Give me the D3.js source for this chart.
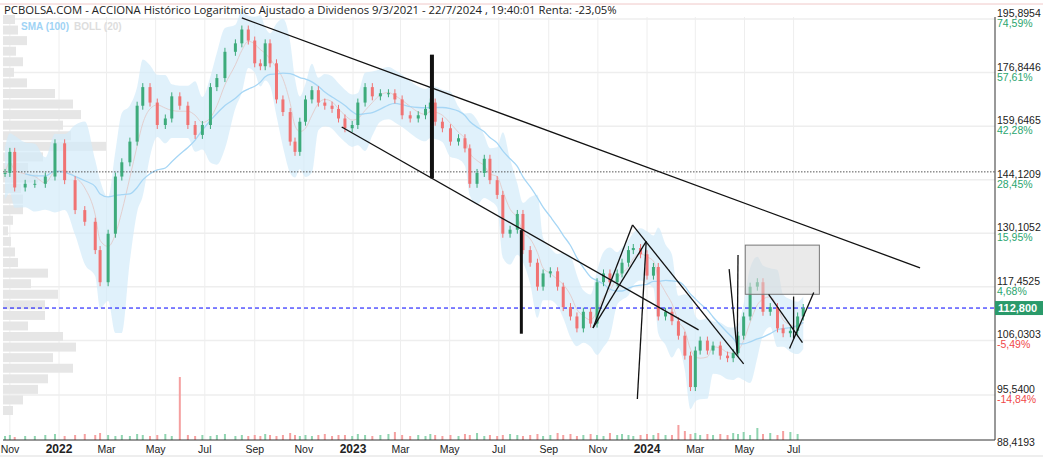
<!DOCTYPE html>
<html>
<head>
<meta charset="UTF-8">
<script src="https://d3js.org/d3.v7.min.js"></script>
<style>
  body { margin: 0; background: #fff; }
  svg { font-family: "Open Sans", sans-serif; }
</style>
</head>
<body>
<svg id="chart" width="1043" height="461"></svg>
<script>
// days after 1 Jan 2022, and the weekly closes
const days = [-67,-61,-55,-42,-30,-17,-5,7,20,32,45,51,61,70,78,88,97,104,113,122,132,140,150,160,169,178,188,196,206,219,227,235,243,250,256,262,270,278,287,293,299,306,314,322,330,339,347,355,364,371,380,389,399,409,417,426,436,446,455,461,467,476,486,496,504,510,519,528,535,544,551,560,569,576,585,594,601,610,619,626,635,643,651,660,668,676,684,693,699,707,713,722,730,738,744,753,761,769,777,784,790,796,805,812,821,830,837,843,850,858,867,874,883,892,899,908,917,924];
const closes = [146,152,142,143,143,145,154.5,144,136,133,126,118.5,130,145,149,155,166,172,167,160,162,169,166,160,157,160,172,175,184,187,192,188,180,179,187,180,168,164,155,152,161,168,171,167,166,165,162,159,160,167,172,169,170,170,168,163,162,163,165,167,161,159,155,156,153,143,146,150,144,140,130,131,135,126,123,117.5,120.5,121,117.5,113,111,108.5,112,109.5,118.5,120.5,118.5,120.5,123,126,126.5,125,120,122,111,112,110,107,103,97,104,106,104,105,103,102.5,103.5,107,111,117.5,118.5,112,113,108.5,107.5,108,111,112.8];
const volumes = [4,5,3,4,4,5,6,4,5,6,5,7,5,4,5,4,6,5,4,5,6,4,63,5,4,5,4,5,6,4,5,4,5,4,6,5,4,5,7,5,4,5,4,5,6,4,5,5,4,6,5,4,5,6,8,5,4,5,4,6,5,4,5,4,6,5,7,4,5,4,5,6,5,4,5,6,4,5,7,5,6,4,5,6,5,4,7,5,6,5,4,5,6,5,7,5,5,15,9,6,7,5,6,5,6,5,7,6,8,5,12,6,7,5,9,8,6];

// right axis labels
const priceTicks = [195.8954,176.8446,159.6465,144.1209,130.1052,117.4525,106.0303,95.54];
const priceLabels = ["195,8954","176,8446","159,6465","144,1209","130,1052","117,4525","106,0303","95,5400"];
const pctTicks = ["74,59%","57,61%","42,28%","28,45%","15,95%","4,68%","-5,49%","-14,84%"];
const lastPrice = 112.8;
const refLine = 146.3;

// volume profile (left), top to bottom
const profile = [12,15,24,13,20,11,24,52,70,78,60,68,103,40,25,35,18,20,20,10,5,8,12,15,45,28,55,42,42,25,60,73,50,70,45,35,20,10];

// trend lines drawn on the chart: [day1, price1, day2, price2, width]
const drawn = [
  [227,196.3,1069,121.8,1.3],[351,159.4,794,108.2,1.3],
  [463,183.0,463,144.5,4],[574,130.9,574,107.4,3],
  [663,108.6,712,132.2,1.3],[663,108.6,729,128.1,1.3],[712,132.2,850,101.4,1.3],
  [729,128.1,718,94.8,1.3],[832,121.5,842,103.8,1.3],[843,124.8,842,103.2,1.3],
  [881,115.8,923,105.6,1.3],[907,104.4,937,116.2,1.3],[912,115.3,912,106.4,1.3]
];
const boxArea = [852,127.2,944,115.8];

const months = [
  ["2021-11-01","Nov"],["2022-01-01","2022"],["2022-03-01","Mar"],["2022-05-01","May"],["2022-07-01","Jul"],
  ["2022-09-01","Sep"],["2022-11-01","Nov"],["2023-01-01","2023"],["2023-03-01","Mar"],["2023-05-01","May"],
  ["2023-07-01","Jul"],["2023-09-01","Sep"],["2023-11-01","Nov"],["2024-01-01","2024"],["2024-03-01","Mar"],
  ["2024-05-01","May"],["2024-07-01","Jul"]
];

const svg = d3.select("#chart");
const L = 3, R = 995, T = 17, B = 440;
const dayDate = d => new Date(2022, 0, 1 + d);
const x = d3.scaleTime().domain([new Date(2022,0,1), new Date(2023,0,1)]).range([59, 353]);
const y = d3.scaleLog().domain([195.8954, 95.54]).range([19, 395]);

svg.append("line").attr("x1",0).attr("x2",1043).attr("y1",4).attr("y2",4).attr("stroke","#f0c8c8");

// grid
months.forEach(m => {
  const px = x(d3.timeParse("%Y-%m-%d")(m[0]));
  svg.append("line").attr("x1",px).attr("x2",px).attr("y1",T).attr("y2",B).attr("stroke","#eee");
});
priceTicks.forEach(p => {
  svg.append("line").attr("x1",L).attr("x2",R).attr("y1",y(p)).attr("y2",y(p)).attr("stroke","#eee").attr("stroke-width",1.5);
});

// volume profile
const pb = d3.scaleBand().domain(d3.range(profile.length)).range([15, 415]).paddingInner(0.15);
const pw = d3.scaleLinear().domain([0, 103]).range([0, 103]);
svg.append("g").selectAll("rect").data(profile).join("rect")
  .attr("x", L).attr("y", (d,i) => pb(i)).attr("height", pb.bandwidth())
  .attr("width", d => pw(d)).attr("fill", "#e6e6e6");

// bollinger and sma
const pts = days.map((d,i) => ({date: dayDate(d), close: closes[i], vol: volumes[i], open: i ? closes[i-1] : closes[i]}));
const boll = pts.map((p,i) => {
  const w = closes.slice(Math.max(0, i-3), i+1);
  const m = d3.mean(w), s = Math.max(d3.deviation(w) || 0, m*0.025);
  return {date: p.date, mid: m, up: m + 2*s, lo: m - 2*s};
});
svg.append("path").datum(boll)
  .attr("d", d3.area().x(d => x(d.date)).y0(d => y(d.lo)).y1(d => y(d.up)).curve(d3.curveMonotoneX))
  .attr("fill", "#d3ebfa").attr("opacity", 0.7);
svg.append("path").datum(boll)
  .attr("d", d3.line().x(d => x(d.date)).y(d => y(d.mid)).curve(d3.curveMonotoneX))
  .attr("fill", "none").attr("stroke", "#e3cfcf").attr("stroke-width", 1);
const sma = pts.map((p,i) => ({date: p.date, v: d3.mean(closes.slice(Math.max(0, i-13), i+1))})).slice(3);
svg.append("path").datum(sma)
  .attr("d", d3.line().x(d => x(d.date)).y(d => y(d.v)).curve(d3.curveMonotoneX))
  .attr("fill", "none").attr("stroke", "#a6d6f5").attr("stroke-width", 1.3);

// reference lines
svg.append("line").attr("x1",L).attr("x2",R).attr("y1",y(refLine)).attr("y2",y(refLine))
  .attr("stroke","#555").attr("stroke-dasharray","1.5,1.5");
svg.append("line").attr("x1",L).attr("x2",R).attr("y1",y(lastPrice)).attr("y2",y(lastPrice))
  .attr("stroke","#0000ff").attr("stroke-dasharray","4,3");

// candles
const cg = svg.append("g");
pts.forEach(p => {
  const up = p.close >= p.open;
  const top = y(Math.max(p.open, p.close)), bot = y(Math.min(p.open, p.close));
  const col = up ? "#3dab7b" : "#f07373";
  cg.append("line").attr("x1", x(p.date)).attr("x2", x(p.date))
    .attr("y1", top - 4).attr("y2", bot + 4).attr("stroke", col).attr("stroke-width", 1);
  cg.append("rect").attr("x", x(p.date) - 1.5).attr("width", 3)
    .attr("y", top).attr("height", Math.max(1, bot - top)).attr("fill", col);
});

// volume
const vy = d3.scaleLinear().domain([0, 63]).range([B, B - 63]);
svg.append("g").selectAll("rect").data(pts).join("rect")
  .attr("x", d => x(d.date) - 1).attr("width", 2)
  .attr("y", d => vy(d.vol)).attr("height", d => B - vy(d.vol))
  .attr("fill", d => d.close >= d.open ? "#8fd4b0" : "#f5a0a0");

// drawn annotations
svg.append("rect")
  .attr("x", x(dayDate(boxArea[0]))).attr("y", y(boxArea[1]))
  .attr("width", x(dayDate(boxArea[2])) - x(dayDate(boxArea[0])))
  .attr("height", y(boxArea[3]) - y(boxArea[1]))
  .attr("fill", "#d8d8d8").attr("fill-opacity", 0.55).attr("stroke", "#777");
drawn.forEach(s => {
  svg.append("line")
    .attr("x1", x(dayDate(s[0]))).attr("y1", y(s[1]))
    .attr("x2", x(dayDate(s[2]))).attr("y2", y(s[3]))
    .attr("stroke", "#111").attr("stroke-width", s[4]);
});

// frame
svg.append("line").attr("x1",R).attr("x2",R).attr("y1",T).attr("y2",B).attr("stroke","#333");
svg.append("line").attr("x1",L).attr("x2",R).attr("y1",B).attr("y2",B).attr("stroke","#333");
svg.append("line").attr("x1",0).attr("x2",1043).attr("y1",456).attr("y2",456).attr("stroke","#ddd");

// right labels
priceTicks.forEach((p,i) => {
  svg.append("text").attr("x", R + 2).attr("y", y(p) - 2).attr("font-size", 10.5)
    .attr("font-family", "Liberation Sans, Arial").attr("fill", "#222").text(priceLabels[i]);
  svg.append("text").attr("x", R + 2).attr("y", y(p) + 8).attr("font-size", 10.5)
    .attr("font-family", "Liberation Sans, Arial")
    .attr("fill", pctTicks[i][0] === "-" ? "#f04848" : "#2aa56e").text(pctTicks[i]);
});
svg.append("text").attr("x", R + 2).attr("y", 446).attr("font-size", 10.5).attr("fill", "#222")
  .attr("font-family", "Liberation Sans, Arial").text("88,4193");
svg.append("rect").attr("x", R).attr("y", y(lastPrice) - 7).attr("width", 48).attr("height", 14).attr("fill", "#2a9a6a");
svg.append("text").attr("x", R + 3).attr("y", y(lastPrice) + 4).attr("font-size", 11).attr("font-weight", "bold")
  .attr("font-family", "Liberation Sans, Arial").attr("fill", "#fff").text("112,800");

// month labels
months.forEach(m => {
  const px = x(d3.timeParse("%Y-%m-%d")(m[0]));
  const yr = /^\d{4}$/.test(m[1]);
  svg.append("text").attr("x", Math.max(px, 10)).attr("y", 453).attr("text-anchor", "middle")
    .attr("font-size", yr ? 12 : 10.5).attr("font-weight", yr ? "bold" : "normal")
    .attr("font-family", "Liberation Sans Narrow, Liberation Sans, Arial").attr("fill", "#222").text(m[1]);
});

// title and legend
svg.append("text").attr("x", 4).attr("y", 14).attr("font-size", 11.3).attr("fill", "#222")
  .text("PCBOLSA.COM - ACCIONA Histórico Logaritmico Ajustado a Dividenos 9/3/2021 - 22/7/2024 , 19:40:01 Renta: -23,05%");
svg.append("text").attr("x", 21).attr("y", 30).attr("font-size", 10).attr("font-weight", "bold")
  .attr("font-family", "Liberation Sans, Arial").attr("fill", "#9fd3f5").text("SMA (100)");
svg.append("text").attr("x", 74).attr("y", 30).attr("font-size", 10).attr("font-weight", "bold")
  .attr("font-family", "Liberation Sans, Arial").attr("fill", "#ddd").text("BOLL (20)");
</script>
</body>
</html>
